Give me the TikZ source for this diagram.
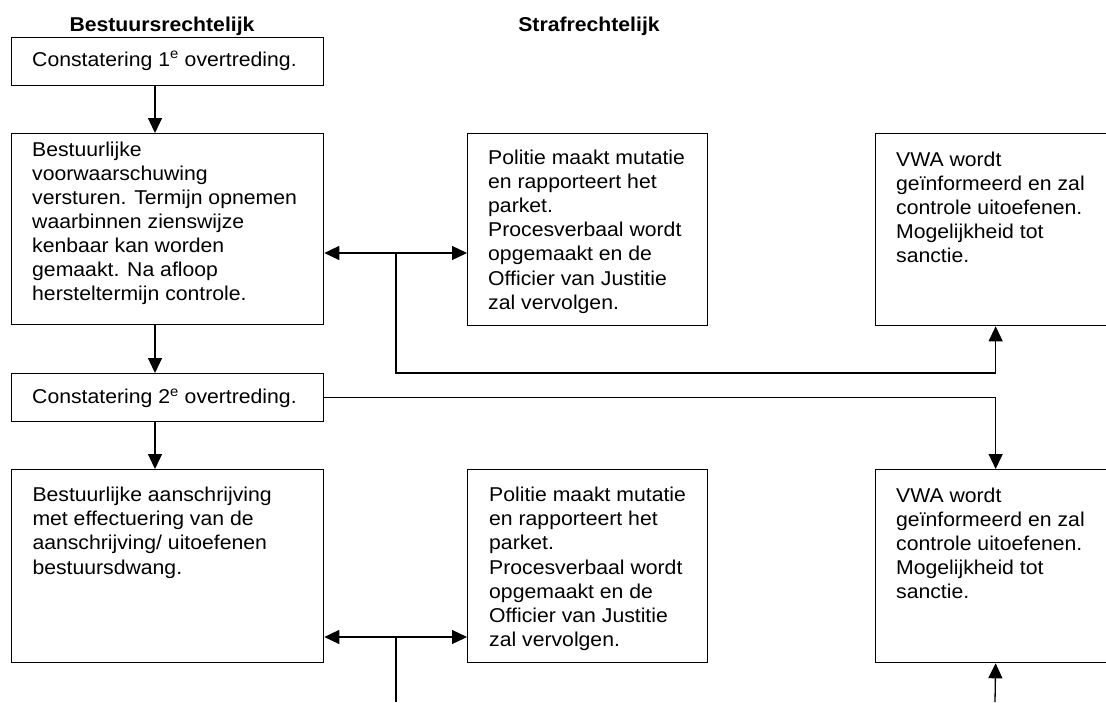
\documentclass[tikz,border=0pt]{standalone}
\usepackage{fontspec}
\setmainfont{Liberation Sans}[FakeStretch=1.06]
\usetikzlibrary{arrows.meta}
\begin{document}
\begin{tikzpicture}[x=1pt,y=-1pt,
  box/.style={draw,line width=1.3pt,inner sep=0pt,anchor=north west},
  txt/.style={anchor=north west,inner sep=0pt,align=left,font=\fontsize{20}{24.1}\selectfont},
  one/.style={anchor=base west,inner sep=0pt,font=\fontsize{20}{24.1}\selectfont},
  head/.style={anchor=base,inner sep=0pt,font=\fontsize{20}{24.1}\selectfont\bfseries},
  conn/.style={line width=1.3pt},
  arr/.style={conn,-{Triangle[length=15pt,width=14pt]}},
  darr/.style={conn,{Triangle[length=15pt,width=14pt]}-{Triangle[length=15pt,width=14pt]}}]
\useasboundingbox (0,0) rectangle (1106,702);
\clip (0,0) rectangle (1106,702);

% headers
\node[head] (h1) at (162,31) {Bestuursrechtelijk};
\node[head] (h2) at (589,31) {Strafrechtelijk};

% boxes
\node[box,minimum width=312pt,minimum height=48pt] (b1) at (11,37) {};
\node[box,minimum width=312pt,minimum height=191pt] (b2) at (11,133) {};
\node[box,minimum width=240pt,minimum height=192pt] (b3) at (467,133) {};
\node[box,minimum width=240pt,minimum height=192pt] (b4) at (875,133) {};
\node[box,minimum width=312pt,minimum height=48pt] (b5) at (11,373) {};
\node[box,minimum width=312pt,minimum height=193pt] (b6) at (11,469) {};
\node[box,minimum width=240pt,minimum height=193pt] (b7) at (467,469) {};
\node[box,minimum width=240pt,minimum height=193pt] (b8) at (875,469) {};

% texts
\node[one] (t1) at (32,66.5) {Constatering 1\textsuperscript{e} overtreding.};
\node[txt] (t2) at (32,139.2) {\strut Bestuurlijke\\voorwaarschuwing\\versturen. Termijn opnemen\\waarbinnen zienswijze\\kenbaar kan worden\\gemaakt. Na afloop\\hersteltermijn controle.};
\node[txt] (t3) at (488,147.5) {\strut Politie maakt mutatie\\en rapporteert het\\parket.\\Procesverbaal wordt\\opgemaakt en de\\Officier van Justitie\\zal vervolgen.};
\node[txt] (t4) at (896,149.1) {\strut VWA wordt\\geïnformeerd en zal\\controle uitoefenen.\\Mogelijkheid tot\\sanctie.};
\node[one] (t5) at (32,403.6) {Constatering 2\textsuperscript{e} overtreding.};
\node[txt] (t6) at (32.3,484.7) {\strut Bestuurlijke aanschrijving\\met effectuering van de\\aanschrijving/ uitoefenen\\bestuursdwang.};
\node[txt] (t7) at (489,484.7) {\strut Politie maakt mutatie\\en rapporteert het\\parket.\\Procesverbaal wordt\\opgemaakt en de\\Officier van Justitie\\zal vervolgen.};
\node[txt] (t8) at (896,485.5) {\strut VWA wordt\\geïnformeerd en zal\\controle uitoefenen.\\Mogelijkheid tot\\sanctie.};

% connectors
\coordinate (vx) at (155,0);
\draw[arr] (b1.south -| vx) -- (b2.north -| vx);
\draw[arr] (b2.south -| vx) -- (b5.north -| vx);
\draw[arr] (b5.south -| vx) -- (b6.north -| vx);

\coordinate (j1) at (396,253);
\coordinate (k1) at (396,373);
\draw[darr] (b2.east |- j1) -- (b3.west |- j1);
\draw[arr] (j1) -- (k1) -| (b4.south);

\draw[arr] (b5.east) -| (b8.north);

\coordinate (j2) at (396,637);
\coordinate (e1) at (396,702);
\coordinate (e2) at (995,702);
\draw[darr] (b6.east |- j2) -- (b7.west |- j2);
\draw[conn] (j2) -- (e1);
\draw[arr] (e2) -- (b8.south);
\end{tikzpicture}
\end{document}
